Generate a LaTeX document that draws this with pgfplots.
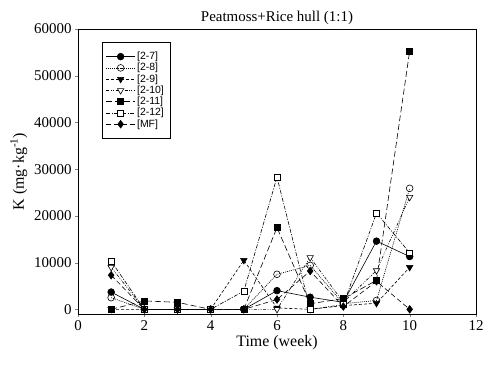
\documentclass[border=0pt]{standalone}
\usepackage{fontspec}
\setmainfont{Liberation Serif}
\newfontfamily\legendfont{Liberation Sans}
\usepackage{pgfplots}
\pgfplotsset{compat=1.18}
\begin{document}
\begin{tikzpicture}
\begin{axis}[
  name=ax,
  scale only axis,
  width=398bp, height=285bp,
  xmin=0, xmax=12, ymin=-1000, ymax=60000,
  xtick={0,2,4,6,8,10,12},
  ytick={0,10000,20000,30000,40000,50000,60000},
  tick pos=left, tick align=outside,
  major tick length=3pt,
  /pgf/number format/assume math mode=true,
  /pgf/number format/set thousands separator={},
  scaled y ticks=false,
  tick label style={font=\fontsize{15}{17}\selectfont},
  xlabel={Time (week)},
  ylabel={K (mg·kg\textsuperscript{-1})},
  label style={font=\fontsize{16}{18}\selectfont},
  xlabel style={yshift=2pt},
  title={Peatmoss+Rice hull (1:1)},
  title style={font=\fontsize{15}{17}\selectfont, yshift=-5pt},
  axis line style={line width=0.6pt},
  every axis plot/.append style={line width=0.6pt, black},
  legend style={at={(0.06,0.955)}, anchor=north west, font=\legendfont\fontsize{10.5}{11}\selectfont,
    draw=black, line width=0.6pt, inner xsep=4pt, inner ysep=8pt, row sep=-1.8pt},
  legend cell align=left,
  legend image code/.code={\draw[mark repeat=2,mark phase=2] plot coordinates {(0cm,0cm)(0.5cm,0cm)(1cm,0cm)};},
]
\addplot[solid, mark=*, mark size=3.4pt, mark options={solid, fill=black}] coordinates {
(1,3700)(2,0)(3,0)(4,0)(5,0)(6,4000)(7,2600)(8,1500)(9,14600)(10,11300)};
\addlegendentry{[2-7]}
\addplot[dash pattern=on 1pt off 1pt, mark=o, mark size=3.4pt, mark options={solid, fill=white}] coordinates {
(1,2500)(2,0)(3,0)(4,0)(5,0)(6,7500)(7,9400)(8,1200)(9,1900)(10,25900)};
\addlegendentry{[2-8]}
\addplot[dash pattern=on 3pt off 2pt, mark=triangle*, mark size=3.7pt, mark options={solid, fill=black, rotate=180}] coordinates {
(1,0)(2,0)(3,0)(4,0)(5,10500)(6,300)(7,0)(8,800)(9,1300)(10,9000)};
\addlegendentry{[2-9]}
\addplot[dash pattern=on 3pt off 1.5pt on 0.8pt off 1.5pt on 0.8pt off 1.5pt, mark=triangle*, mark size=3.7pt, mark options={solid, fill=white, rotate=180}] coordinates {
(1,9000)(2,0)(3,0)(4,0)(5,0)(6,0)(7,11100)(8,1500)(9,8300)(10,24000)};
\addlegendentry{[2-10]}
\addplot[dash pattern=on 6pt off 3pt, mark=square*, mark size=3pt, mark options={solid, fill=black}] coordinates {
(1,0)(2,1800)(3,1500)(4,0)(5,0)(6,17500)(7,1200)(8,2300)(9,6200)(10,55300)};
\addlegendentry{[2-11]}
\addplot[dash pattern=on 4pt off 1.5pt on 1pt off 1.5pt, mark=square*, mark size=3pt, mark options={solid, fill=white}] coordinates {
(1,10300)(2,0)(3,0)(4,0)(5,3900)(6,28300)(7,0)(8,1000)(9,20600)(10,12100)};
\addlegendentry{[2-12]}
\addplot[dash pattern=on 5pt off 3pt, mark=diamond*, mark size=3.8pt, mark options={solid, fill=black}] coordinates {
(1,7300)(2,0)(3,0)(4,0)(5,0)(6,2100)(7,8200)(8,600)(9,6000)(10,0)};
\addlegendentry{[MF]}
\end{axis}
\path ([shift={(-78bp,-60bp)}]ax.south west) rectangle ([shift={(16bp,29bp)}]ax.north east);
\end{tikzpicture}
\end{document}
